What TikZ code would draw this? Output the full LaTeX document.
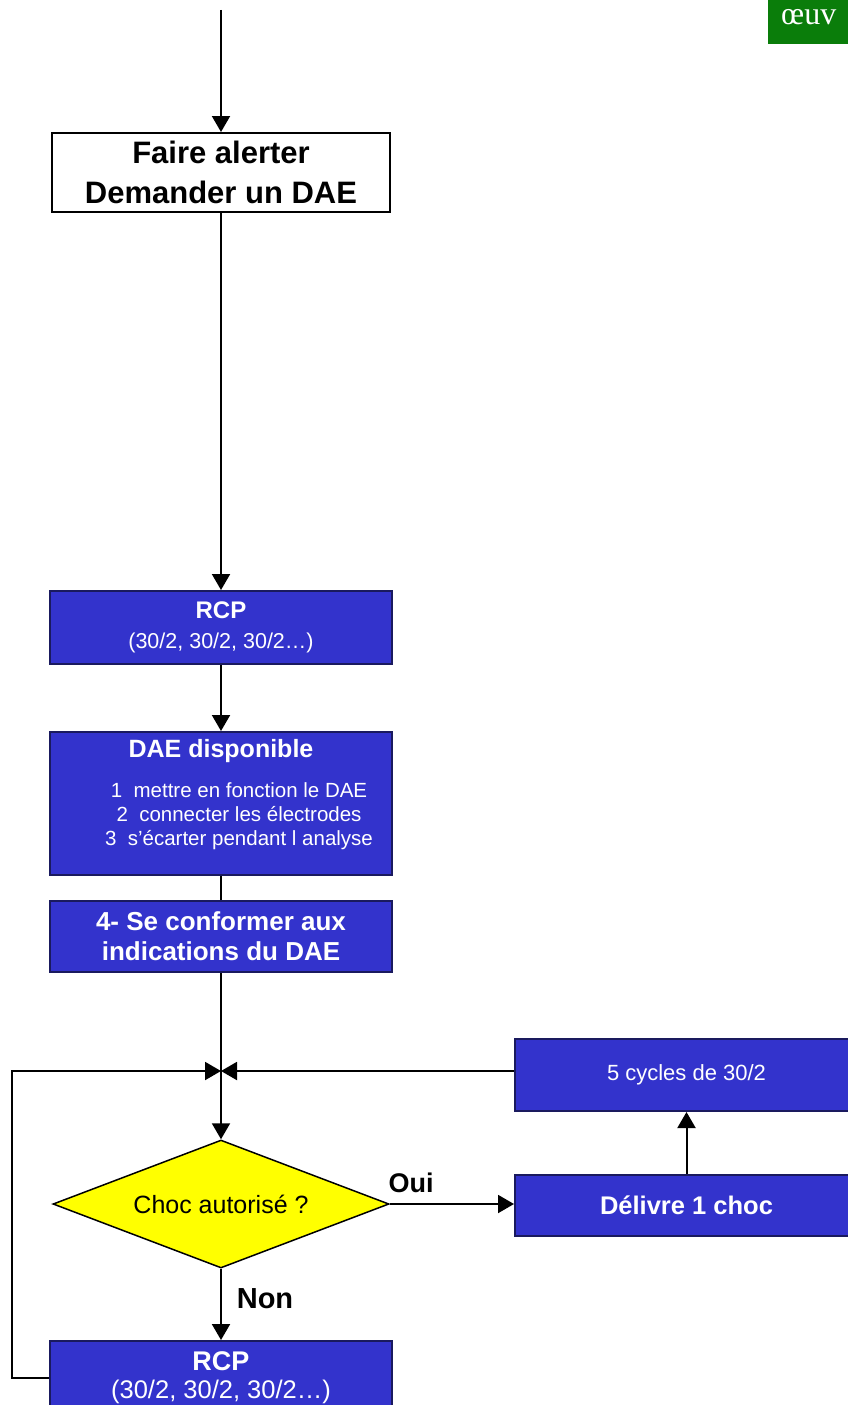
\documentclass[tikz,border=0pt]{standalone}
\usepackage{fontspec}
\setmainfont{Liberation Sans}
\newfontfamily\serifoeuv{Liberation Serif}
\usepackage{tikz}
\usetikzlibrary{arrows.meta,shapes.geometric}
\definecolor{bleuDAE}{HTML}{3333CC}
\definecolor{bordDAE}{HTML}{1A1A5E}
\definecolor{jauneQ}{HTML}{FFFF00}
\definecolor{vertT}{HTML}{0A7D0A}
\newcommand{\taille}[2]{\fontsize{#1}{#2}\selectfont}
\tikzset{>={Triangle[width=18pt,length=16pt]},
  fil/.style={draw=black,line width=2pt},
  boite/.style={rectangle,draw=black,line width=2pt,fill=white,
    minimum width=338pt,minimum height=79pt,inner sep=0pt,align=center},
  bleue/.style={rectangle,draw=bordDAE,line width=2pt,fill=bleuDAE,text=white,
    minimum width=342pt,inner sep=0pt,align=center},
  losange/.style={diamond,draw=black,line width=1.5pt,fill=jauneQ,aspect=2.6,
    minimum width=336pt,minimum height=128pt,inner sep=0pt},
  reponse/.style={font=\bfseries\taille{27}{30},inner sep=0pt,anchor=base}
}

\begin{document}
\begin{tikzpicture}[x=1pt,y=-1pt]
\useasboundingbox (0,0) rectangle (848,1405);
\fill[vertT] (768,-2) rectangle (860,44);
\node[anchor=base west,inner sep=0pt,text=white,font=\serifoeuv\taille{32}{36}] (oeuv) at (781,25) {œuv};

\node[boite,font=\bfseries\taille{31}{40}] (alerte) at (221,172.5) {Faire alerter\\Demander un DAE};
\node[bleue,minimum height=73pt,font=\taille{21.5}{30}] (rcp) at (221,627.5)
  {{\bfseries\taille{24}{30}RCP}\\(30/2, 30/2, 30/2…)};
\node[bleue,minimum height=143pt] (dae) at (221,803.5) {};
\node[anchor=base,inner sep=0pt,text=white,font=\bfseries\taille{25}{30}] (daetitre) at (221,757) {DAE disponible};
\node[anchor=north,inner sep=0pt,text=white,align=center,font=\taille{20.5}{24.2}] (daeliste) at (239,782)
  {1\ \ mettre en fonction le DAE\\2\ \ connecter les électrodes\\3\ \ s’écarter pendant l analyse};
\node[bleue,minimum height=71pt,font=\bfseries\taille{26}{30}] (conf) at (221,936.5) {4- Se conformer aux\\indications du DAE};
\node[losange,font=\taille{25}{30}] (choc) at (221,1204) {Choc autorisé ?};
\node[bleue,minimum width=343pt,minimum height=61pt,font=\bfseries\taille{25.5}{30}] (delivre) at (686.5,1205.5) {Délivre 1 choc};
\node[bleue,minimum width=343pt,minimum height=72pt,font=\taille{22}{30}] (cycles) at (686.5,1075) {5 cycles de 30/2};
\node[bleue,minimum height=73pt,font=\taille{25.5}{28}] (rcpbis) at (221,1377.5)
  {{\bfseries\taille{27}{28}RCP}\\(30/2, 30/2, 30/2…)};
\node[reponse] (oui) at (411,1192) {Oui};
\node[reponse,font=\bfseries\taille{29}{30}] (non) at (265,1308) {Non};

\coordinate (debut) at (221,10);
\coordinate (junc) at (221,1071);
\coordinate (boucle) at (12,1071);
\draw[fil,->] (debut) -- (alerte);
\draw[fil,->] (alerte) -- (rcp);
\draw[fil,->] (rcp) -- (dae);
\draw[fil] (dae) -- (conf);
\draw[fil,->] (conf) -- (choc);
\draw[fil,->] (choc) -- (rcpbis);
\draw[fil,->] (choc.east) -- (choc.east -| delivre.west);
\draw[fil,->] (delivre) -- (cycles);
\draw[fil,->] (cycles.west |- junc) -- (junc);
\draw[fil,->] (rcpbis.west) -| (boucle) -- (junc);
\end{tikzpicture}
\end{document}
